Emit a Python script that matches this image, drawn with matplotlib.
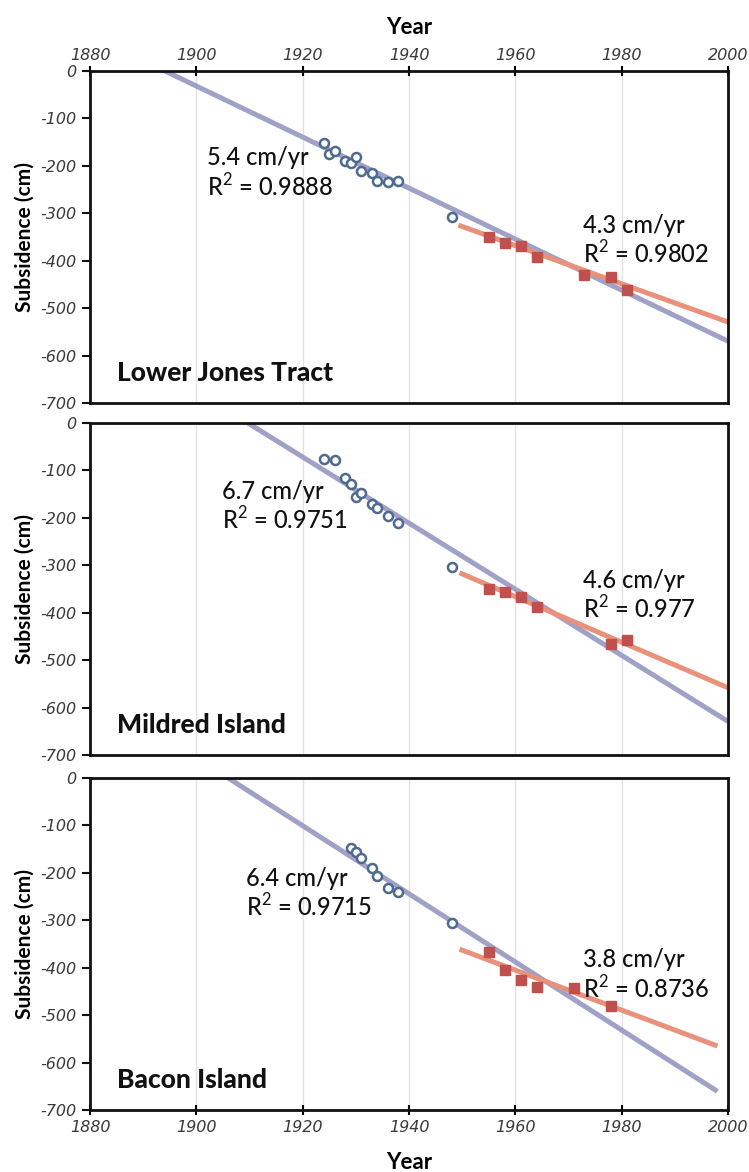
import numpy as np
import matplotlib.pyplot as plt

plt.rcParams['font.family'] = ['Lato', 'DejaVu Sans']
plt.rcParams['mathtext.fontset'] = 'custom'
plt.rcParams['mathtext.rm'] = 'Lato'
plt.rcParams['axes.unicode_minus'] = False

# Данные по островам
sites = ['Lower Jones Tract', 'Mildred Island', 'Bacon Island']

# ранние измерения (кружки)
early_years = [
    [1924, 1925, 1926, 1928, 1929, 1930, 1931, 1933, 1934, 1936, 1938, 1948],
    [1924, 1926, 1928, 1929, 1930, 1931, 1933, 1934, 1936, 1938, 1948],
    [1929, 1930, 1931, 1933, 1934, 1936, 1938, 1948],
]
early_vals = [
    [-152, -174, -169, -189, -195, -181, -210, -216, -232, -233, -232, -307],
    [-75, -79, -115, -129, -155, -147, -171, -179, -197, -211, -303],
    [-148, -155, -168, -190, -207, -231, -240, -305],
]

# поздние измерения (квадраты)
late_years = [
    [1955, 1958, 1961, 1964, 1973, 1978, 1981],
    [1955, 1958, 1961, 1964, 1978, 1981],
    [1955, 1958, 1961, 1964, 1971, 1978],
]
late_vals = [
    [-351, -363, -369, -393, -430, -435, -462],
    [-349, -356, -366, -389, -467, -458],
    [-366, -405, -426, -440, -442, -481],
]

# линии тренда: наклон (см/год), значение в 1950 г., диапазон лет
early_slope = [-5.38, -6.97, -7.18]
early_at1950 = [-300.7, -280.8, -316.0]
early_range = [(1880, 2000), (1880, 2000), (1880, 1998)]
late_slope = [-4.03, -4.80, -4.21]
late_at1950 = [-327.8, -318.2, -363.0]
late_range = [(1949.3, 2000), (1949.5, 2000), (1949.5, 1998)]

early_text = ['5.4 cm/yr\nR$^{2}$ = 0.9888', '6.7 cm/yr\nR$^{2}$ = 0.9751', '6.4 cm/yr\nR$^{2}$ = 0.9715']
late_text = ['4.3 cm/yr\nR$^{2}$ = 0.9802', '4.6 cm/yr\nR$^{2}$ = 0.977', '3.8 cm/yr\nR$^{2}$ = 0.8736']
early_text_pos = [(1902, -215), (1904.8, -176), (1909.3, -244)]
late_text_pos = [(1972.7, -357), (1972.7, -364), (1972.7, -415)]

years_ticks = [1880, 1900, 1920, 1940, 1960, 1980, 2000]
val_ticks = [0, -100, -200, -300, -400, -500, -600, -700]

blue_line = '#a0a1c6'
orange_line = '#e8917b'
circle_col = '#4e6a8e'
square_col = '#c0504d'

tick_font = dict(family='DejaVu Sans', style='oblique', size=11.5)

fig = plt.figure(figsize=(7.49, 11.72), dpi=100)
W, H = 749, 1172
tops = [71, 423, 778]
ax_h = 332

for i in range(3):
    ax = fig.add_axes([90 / W, 1 - (tops[i] + ax_h) / H, 638 / W, ax_h / H])
    ax.set_xlim(1880, 2000)
    ax.set_ylim(-700, 0)
    ax.set_xticks(years_ticks)
    ax.set_yticks(val_ticks)
    ax.grid(axis='x', color='#e2e2e2', lw=1.0)
    ax.set_axisbelow(True)
    for s in ax.spines.values():
        s.set_linewidth(2.0)
        s.set_color('#111111')

    # линии тренда
    x = np.array(early_range[i])
    ax.plot(x, early_at1950[i] + early_slope[i] * (x - 1950), color=blue_line, lw=3.6,
            solid_capstyle='butt', zorder=2)
    x = np.array(late_range[i])
    ax.plot(x, late_at1950[i] + late_slope[i] * (x - 1950), color=orange_line, lw=3.6,
            solid_capstyle='butt', zorder=2)

    ax.plot(early_years[i], early_vals[i], 'o', ms=6.5, mfc='white', mec=circle_col,
            mew=1.8, zorder=3)
    ax.plot(late_years[i], late_vals[i], 's', ms=7, color=square_col, zorder=3)

    ax.text(*early_text_pos[i], early_text[i], fontsize=17, fontweight='medium',
            ha='left', va='center', linespacing=1.1, color='#111111')
    ax.text(*late_text_pos[i], late_text[i], fontsize=17, fontweight='medium',
            ha='left', va='center', linespacing=1.1, color='#111111')
    ax.text(1885, -637, sites[i], fontsize=19, fontweight='black', ha='left',
            va='center', color='#111111')

    ax.set_ylabel('Subsidence (cm)', fontsize=15, fontweight='bold', labelpad=4)
    ax.tick_params(axis='y', direction='out', length=6, width=1.5,
                   colors='#111111', labelcolor='#3a3a3a')
    ax.set_yticklabels([str(v) for v in val_ticks], fontdict=tick_font)

    if i == 0:
        ax.xaxis.tick_top()
        ax.xaxis.set_label_position('top')
        ax.set_xlabel('Year', fontsize=16, fontweight='bold', labelpad=10)
        ax.tick_params(axis='x', direction='inout', length=7, width=1.5,
                       labelcolor='#3a3a3a', pad=2)
        ax.set_xticklabels([str(v) for v in years_ticks], fontdict=tick_font)
    elif i == 2:
        ax.set_xlabel('Year', fontsize=16, fontweight='bold', labelpad=12)
        ax.tick_params(axis='x', direction='inout', length=7, width=1.5,
                       labelcolor='#3a3a3a', pad=4)
        ax.set_xticklabels([str(v) for v in years_ticks], fontdict=tick_font)
    else:
        ax.tick_params(axis='x', length=0, labelbottom=False)

fig.savefig('out.png', dpi=100)
